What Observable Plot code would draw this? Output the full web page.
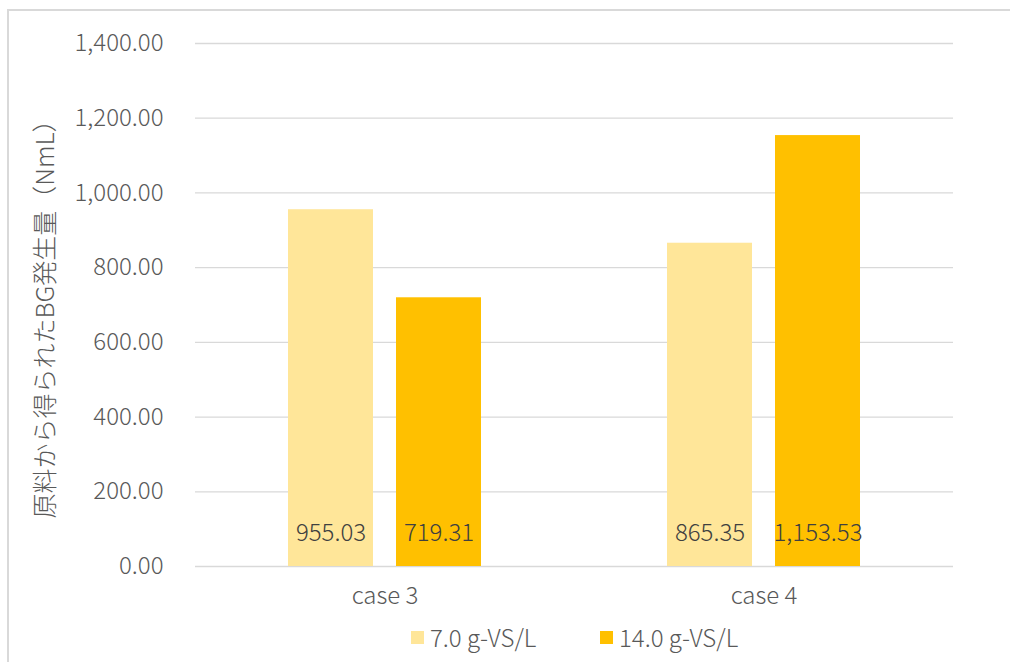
<!DOCTYPE html>
<html>
<head>
<meta charset="utf-8">
<script src="https://cdn.jsdelivr.net/npm/d3@7"></script>
<script src="https://cdn.jsdelivr.net/npm/@observablehq/plot@0.6"></script>
<style>
  html, body { margin: 0; padding: 0; background: #fff; }
  #wrap { position: relative; width: 1010px; height: 662px; overflow: hidden; font-family: "Noto Sans CJK JP", "Noto Sans", sans-serif; }
  #frame { position: absolute; left: 7px; top: 9px; width: 1010px; height: 660px; border-top: 2px solid #d9d9d9; border-left: 2px solid #d9d9d9; }
  #bg, #fg { position: absolute; left: 0; top: 0; }
  #legend { position: absolute; top: 622px; left: 0; width: 1010px; height: 30px; }
  .sw { position: absolute; top: 9px; width: 13px; height: 13px; }
  .lt { position: absolute; top: 0; font-size: 24px; font-weight: 300; color: #595959; line-height: 30px; white-space: nowrap; }
</style>
</head>
<body>
<div id="wrap">
  <div id="frame"></div>
  <div id="bg"></div>
  <div id="fg"></div>
  <div id="legend"></div>
</div>
<script>
const cases = ["case 3", "case 4"];
const series = ["7.0 g-VS/L", "14.0 g-VS/L"];
const colors = ["#FFE699", "#FFC000"];
const values7 = [955.03, 865.35];
const values14 = [719.31, 1153.53];
const yTicks = [0, 200, 400, 600, 800, 1000, 1200, 1400];
const yLabel = "原料から得られたBG発生量（NmL）";

const data = [];
cases.forEach((c, i) => {
  data.push({case: c, series: series[0], value: values7[i]});
  data.push({case: c, series: series[1], value: values14[i]});
});

const fmt = d3.format(",.2f");
const font = "Noto Sans CJK JP, Noto Sans, sans-serif";
const common = {
  width: 1010,
  height: 662,
  marginLeft: 195,
  marginRight: 57,
  marginTop: 43,
  marginBottom: 96,
  style: { fontFamily: font, fontSize: "24px", fontWeight: 300, color: "#595959", background: "transparent" }
};

// background: grid, y axis, y label
const bg = Plot.plot({
  ...common,
  y: { domain: [0, 1400], ticks: yTicks, label: null, axis: null },
  marks: [
    Plot.gridY(yTicks, { stroke: "#d9d9d9", strokeOpacity: 1, strokeWidth: 1.3 }),
    Plot.axisY(yTicks, { tickSize: 0, tickPadding: 32, tickFormat: fmt, fill: "#595959", fontSize: 24, label: null, anchor: "left" }),
    Plot.text([yLabel], { frameAnchor: "left", textAnchor: "middle", dx: -150, dy: 8, rotate: -90, text: d => d, fill: "#595959", fontSize: 25 })
  ]
});
document.getElementById("bg").appendChild(bg);

// foreground: bars, labels, category axis
const fg = Plot.plot({
  ...common,
  fx: { domain: cases, paddingInner: 0.49, paddingOuter: 0.245, label: null },
  x: { domain: series, paddingInner: 0.213, paddingOuter: 0, axis: null },
  y: { domain: [0, 1400], label: null, axis: null },
  color: { domain: series, range: colors },
  marks: [
    Plot.barY(data, { fx: "case", x: "series", y: "value", fill: "series" }),
    Plot.text(data, { fx: "case", x: "series", y: 0, dy: -33, text: d => fmt(d.value), fill: "#404040", fontSize: 24 }),
    Plot.axisFx({ tickSize: 0, tickPadding: 20, fontSize: 24, fill: "#595959", label: null, anchor: "bottom" })
  ]
});
document.getElementById("fg").appendChild(fg);

const legend = document.getElementById("legend");
const legendPos = [{sw: 411, tx: 430}, {sw: 600, tx: 619}];
series.forEach((s, i) => {
  const sw = document.createElement("div");
  sw.className = "sw";
  sw.style.left = legendPos[i].sw + "px";
  sw.style.background = colors[i];
  legend.appendChild(sw);
  const t = document.createElement("div");
  t.className = "lt";
  t.style.left = legendPos[i].tx + "px";
  t.textContent = s;
  legend.appendChild(t);
});
</script>
</body>
</html>
